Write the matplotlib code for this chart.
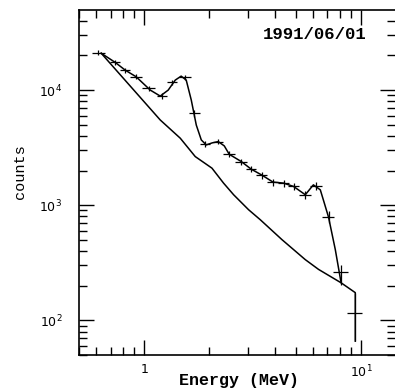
import matplotlib
matplotlib.use('Agg')
import matplotlib.pyplot as plt
from matplotlib.ticker import LogLocator, NullFormatter

# measured spectrum (crosses): energy bin edges, centre, counts and count errors
energy = [0.613, 0.735, 0.817, 0.918, 1.049, 1.211, 1.346, 1.546, 1.701, 1.912,
          2.195, 2.466, 2.803, 3.117, 3.493, 3.926, 4.395, 4.887, 5.534, 6.219,
          7.088, 8.086, 9.41]
e_lo = [0.574, 0.697, 0.775, 0.862, 0.979, 1.148, 1.277, 1.451, 1.613, 1.813,
        2.082, 2.315, 2.63, 2.955, 3.287, 3.695, 4.153, 4.618, 5.192, 5.834,
        6.63, 7.45, 8.62]
e_hi = [0.661, 0.775, 0.862, 0.979, 1.124, 1.277, 1.420, 1.648, 1.813, 2.016,
        2.315, 2.63, 2.987, 3.287, 3.695, 4.153, 4.668, 5.192, 5.897, 6.63,
        7.53, 8.74, 10.1]
counts = [21200, 17380, 14900, 13040, 10340, 8930, 11660, 12880, 6290, 3390,
          3570, 2770, 2395, 2055, 1824, 1588, 1556, 1455, 1233, 1475,
          790, 262, 115]
err_lo = [900, 800, 700, 650, 550, 500, 600, 650, 400, 200,
          200, 170, 150, 130, 120, 110, 110, 100, 90, 110,
          90, 58, 49]
err_hi = [900, 800, 700, 650, 550, 500, 600, 650, 400, 200,
          200, 170, 150, 130, 120, 110, 110, 100, 90, 110,
          95, 42, 59]

# fitted model (upper curve)
model_e = [0.633, 0.735, 0.817, 0.918, 1.066, 1.185, 1.29, 1.39, 1.48, 1.562,
           1.648, 1.738, 1.833, 1.932, 2.06, 2.195, 2.34, 2.466, 2.803, 3.117,
           3.493, 3.926, 4.395, 4.887, 5.534, 6.03, 6.49, 6.70, 7.08, 7.61, 8.09]
model_c = [20900, 17380, 14900, 13040, 10000, 8870, 10000, 12210, 13220, 12210,
           8190, 4970, 3690, 3340, 3480, 3570, 3275, 2770, 2395, 2055,
           1824, 1588, 1556, 1455, 1233, 1503, 1360, 1116, 790, 412, 213]

# continuum (lower curve)
cont_e = [0.633, 1.185, 1.466, 1.719, 2.053, 2.322, 2.584, 3.029, 3.43, 4.32,
          5.53, 6.37, 8.09, 9.41, 9.41]
cont_c = [20900, 5500, 3820, 2645, 2098, 1556, 1233, 914, 748, 502,
          337, 277, 212, 174, 66]


def main():
    fig = plt.figure(figsize=(3.95, 3.89), dpi=100)
    ax = fig.add_axes([0.2, 0.0874, 0.8, 0.8866])

    xerr = [[e - lo for e, lo in zip(energy, e_lo)],
            [hi - e for e, hi in zip(energy, e_hi)]]
    ax.errorbar(energy, counts, xerr=xerr, yerr=[err_lo, err_hi],
                fmt='none', ecolor='black', elinewidth=0.9, capsize=0)
    ax.plot(model_e, model_c, color='black', lw=1.1)
    ax.plot(cont_e, cont_c, color='black', lw=1.1)

    ax.set_xscale('log')
    ax.set_yscale('log')
    ax.set_xlim(0.5, 14.35)
    ax.set_ylim(50, 4.95e4)

    ax.set_xticks([1, 10], labels=['1', r'$\mathdefault{10^{1}}$'])
    ax.xaxis.set_minor_locator(LogLocator(base=10, subs=range(2, 10)))
    ax.xaxis.set_minor_formatter(NullFormatter())
    ax.yaxis.set_major_locator(LogLocator(base=10))
    ax.yaxis.set_minor_locator(LogLocator(base=10, subs=range(2, 10)))
    ax.yaxis.set_minor_formatter(NullFormatter())

    ax.tick_params(which='both', direction='in', top=True, right=True,
                   labelsize=9, width=1.0)
    ax.tick_params(which='major', length=11)
    ax.tick_params(which='minor', length=5.5)
    ax.tick_params(axis='y', which='major', pad=12)
    ax.tick_params(axis='x', which='major', pad=6)
    for side in ['left', 'bottom', 'top']:
        ax.spines[side].set_linewidth(1.2)
    ax.spines['right'].set_visible(False)

    ax.text(0.745, 0.928, '1991/06/01', transform=ax.transAxes,
            ha='center', va='center', family='Liberation Mono',
            fontweight='bold', fontsize=12.5)
    fig.text(239 / 395, 1 - 381 / 389, 'Energy (MeV)', ha='center', va='center',
             family='Liberation Mono', fontweight='bold', fontsize=12)
    fig.text(20 / 395, 1 - 172 / 389, 'counts', rotation=90, ha='center',
             va='center', family='Liberation Mono', fontsize=11)

    fig.savefig('out.png', dpi=100)


if __name__ == '__main__':
    main()
